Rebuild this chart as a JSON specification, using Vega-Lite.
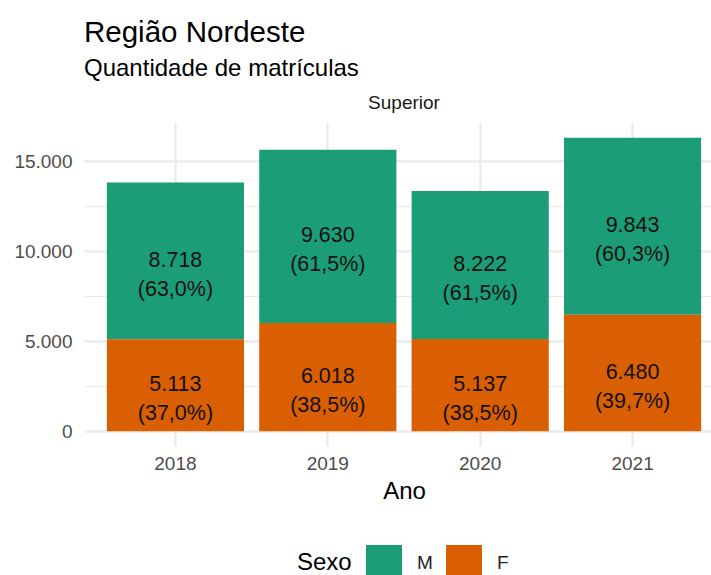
{
  "$schema": "https://vega.github.io/schema/vega-lite/v6.json",
  "background": "white",
  "padding": {"left": 13, "top": 17, "right": 0, "bottom": 0},
  "title": {
    "text": "Região Nordeste",
    "subtitle": "Quantidade de matrículas",
    "anchor": "start",
    "frame": "group",
    "font": "Liberation Sans",
    "fontSize": 29.5,
    "fontWeight": "normal",
    "color": "#000000",
    "subtitleFont": "Liberation Sans",
    "subtitleFontSize": 24,
    "subtitleColor": "#000000",
    "subtitlePadding": 9,
    "offset": 12
  },
  "data": {
    "values": [
      {"nivel": "Superior", "ano": "2018", "sexo": "M", "n": 8718, "pct": 63.0},
      {"nivel": "Superior", "ano": "2018", "sexo": "F", "n": 5113, "pct": 37.0},
      {"nivel": "Superior", "ano": "2019", "sexo": "M", "n": 9630, "pct": 61.5},
      {"nivel": "Superior", "ano": "2019", "sexo": "F", "n": 6018, "pct": 38.5},
      {"nivel": "Superior", "ano": "2020", "sexo": "M", "n": 8222, "pct": 61.5},
      {"nivel": "Superior", "ano": "2020", "sexo": "F", "n": 5137, "pct": 38.5},
      {"nivel": "Superior", "ano": "2021", "sexo": "M", "n": 9843, "pct": 60.3},
      {"nivel": "Superior", "ano": "2021", "sexo": "F", "n": 6480, "pct": 39.7}
    ]
  },
  "transform": [
    {"stack": "n", "groupby": ["ano"], "sort": [{"field": "sexo", "order": "ascending"}], "as": ["y0", "y1"]},
    {"calculate": "(datum.y0 + datum.y1) / 2", "as": "mid"},
    {"calculate": "[replace(format(datum.n, ',d'), ',', '.'), '(' + replace(format(datum.pct, '.1f'), '.', ',') + '%)']", "as": "label"}
  ],
  "facet": {
    "column": {
      "field": "nivel",
      "type": "nominal",
      "title": null,
      "header": {"labelFont": "Liberation Sans", "labelFontSize": 19, "labelColor": "#1A1A1A", "labelPadding": 10}
    }
  },
  "spec": {
    "width": 640,
    "height": 323,
    "layer": [
      {
        "mark": {"type": "bar"},
        "encoding": {
          "x": {
            "field": "ano",
            "type": "ordinal",
            "title": "Ano",
            "scale": {"paddingInner": 0.1, "paddingOuter": 0.15},
            "axis": {
              "labelAngle": 0,
              "labelFont": "Liberation Sans",
              "labelFontSize": 19,
              "labelColor": "#4D4D4D",
              "labelPadding": 8,
              "ticks": false,
              "domain": false,
              "grid": true,
              "gridColor": "#EBEBEB",
              "gridWidth": 2.4,
              "bandPosition": 0.5,
              "titleFont": "Liberation Sans",
              "titleFontSize": 24,
              "titleFontWeight": "normal",
              "titleColor": "#000000",
              "titlePadding": 6
            }
          },
          "y": {
            "field": "y0",
            "type": "quantitative",
            "title": null,
            "scale": {"domain": [-816, 17139], "nice": false, "zero": false},
            "axis": {
              "values": [0, 2500, 5000, 7500, 10000, 12500, 15000],
              "labelExpr": "datum.value % 5000 === 0 ? replace(format(datum.value, ',d'), ',', '.') : ''",
              "labelOverlap": false,
              "labelFont": "Liberation Sans",
              "labelFontSize": 19,
              "labelColor": "#4D4D4D",
              "labelPadding": 12,
              "ticks": false,
              "domain": false,
              "grid": true,
              "gridColor": "#EBEBEB",
              "gridWidth": {"condition": {"test": "datum.value % 5000 !== 0", "value": 1.2}, "value": 2.4}
            }
          },
          "y2": {"field": "y1"},
          "color": {
            "field": "sexo",
            "type": "nominal",
            "title": "Sexo",
            "scale": {"domain": ["M", "F"], "range": ["#1B9E77", "#D95F02"]},
            "legend": {
              "orient": "none",
              "legendX": 213,
              "legendY": 422,
              "direction": "horizontal",
              "titleOrient": "left",
              "symbolType": "square",
              "symbolSize": 1296,
              "symbolStrokeWidth": 0,
              "symbolOpacity": 1,
              "labelFont": "Liberation Sans",
              "labelFontSize": 19,
              "labelColor": "#222222",
              "labelOffset": 15,
              "columnPadding": 13,
              "titleFont": "Liberation Sans",
              "titleFontSize": 24,
              "titleFontWeight": "normal",
              "titleColor": "#000000",
              "titlePadding": 14
            }
          }
        }
      },
      {
        "mark": {"type": "text", "font": "Liberation Sans", "fontSize": 21.5, "lineHeight": 29, "baseline": "middle", "align": "center", "color": "#111111"},
        "encoding": {
          "x": {"field": "ano", "type": "ordinal"},
          "y": {"field": "mid", "type": "quantitative"},
          "text": {"field": "label", "type": "nominal"}
        }
      }
    ]
  },
  "config": {
    "view": {"stroke": null}
  }
}
